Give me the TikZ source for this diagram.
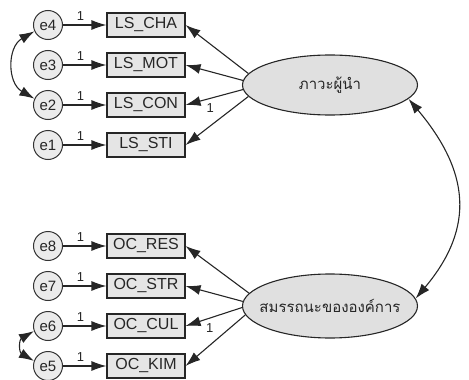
\documentclass[tikz,border=0pt]{standalone}
\usepackage{fontspec}
\setmainfont{Liberation Sans}
\newfontfamily\thaifont[Script=Thai]{Loma}
\usetikzlibrary{arrows.meta,shapes.geometric}

\begin{document}
\begin{tikzpicture}[x=1pt,y=1pt]
        \tikzstyle{every node}=[text=black!85]
        \tikzstyle{err}=[draw=black!80,fill=black!8,circle,line width=1pt,inner sep=0pt,minimum size=29pt,font=\fontsize{15}{15}\selectfont]
        \tikzstyle{obs}=[draw=black!85,fill=black!10,rectangle,line width=1.1pt,inner sep=0pt,minimum width=78pt,minimum height=24pt,font=\fontsize{16}{16}\selectfont]
        \tikzstyle{lat}=[draw=black!85,fill=black!12,ellipse,line width=1.1pt,inner xsep=-12pt,inner ysep=0pt,minimum width=175pt,font=\thaifont\fontsize{15}{15}\selectfont]
        \tikzstyle{reg}=[draw=black!85,line width=1.1pt,-{Latex[length=15pt,width=10pt]}]
        \tikzstyle{cov}=[draw=black!85,line width=1.1pt,{Latex[length=15pt,width=10pt]}-{Latex[length=15pt,width=10pt]}]
        \tikzstyle{one}=[font=\fontsize{13}{13}\selectfont,inner sep=0pt]
        \useasboundingbox (0,0) rectangle (469,-380);
        % leadership
        \node[lat,minimum height=60pt] (lead) at (330,-85) {ภาวะผู้นำ};
        \node[obs] (cha) at (146,-25) {LS\_CHA};
        \node[obs] (mot) at (146,-65) {LS\_MOT};
        \node[obs] (con) at (146,-105) {LS\_CON};
        \node[obs] (sti) at (146,-145) {LS\_STI};
        \node[err] (e4) at (48,-25) {e4};
        \node[err] (e3) at (48,-65) {e3};
        \node[err] (e2) at (48,-105) {e2};
        \node[err] (e1) at (48,-145) {e1};
        % organization
        \node[lat,minimum height=64pt] (org) at (330,-306) {สมรรถนะขององค์การ};
        \node[obs] (res) at (146,-246) {OC\_RES};
        \node[obs] (str) at (146,-286) {OC\_STR};
        \node[obs] (cul) at (146,-326) {OC\_CUL};
        \node[obs] (kim) at (146,-366) {OC\_KIM};
        \node[err] (e8) at (48,-246) {e8};
        \node[err] (e7) at (48,-286) {e7};
        \node[err] (e6) at (48,-326) {e6};
        \node[err] (e5) at (48,-366) {e5};
        % errors to indicators
        \draw[reg] (e4) -- node[one,above=4pt,pos=0.4] {1} (cha);
        \draw[reg] (e3) -- node[one,above=4pt,pos=0.4] {1} (mot);
        \draw[reg] (e2) -- node[one,above=4pt,pos=0.4] {1} (con);
        \draw[reg] (e1) -- node[one,above=4pt,pos=0.4] {1} (sti);
        \draw[reg] (e8) -- node[one,above=4pt,pos=0.4] {1} (res);
        \draw[reg] (e7) -- node[one,above=4pt,pos=0.4] {1} (str);
        \draw[reg] (e6) -- node[one,above=4pt,pos=0.4] {1} (cul);
        \draw[reg] (e5) -- node[one,above=4pt,pos=0.4] {1} (kim);
        % loadings
        \draw[reg] (lead.172) -- (cha.east);
        \draw[reg] (lead.177) -- (mot.east);
        \draw[reg] (lead.183) -- node[one,below=5pt,pos=0.57] {1} (con.east);
        \draw[reg] (lead.188) -- (sti.east);
        \draw[reg] (org.171) -- (res.east);
        \draw[reg] (org.177) -- (str.east);
        \draw[reg] (org.181) -- node[one,below=5pt,pos=0.57] {1} (cul.east);
        \draw[reg] (org.186) -- (kim.east);
        % covariances
        \draw[cov] (e4.205) to[out=210,in=150,looseness=1.2] (e2.155);
        \draw[cov] (e6.200) to[out=210,in=150,looseness=1.5] (e5.160);
        \draw[cov] (org.5) to[out=50,in=-50,looseness=1.2] (lead.-10);
\end{tikzpicture}
\end{document}
